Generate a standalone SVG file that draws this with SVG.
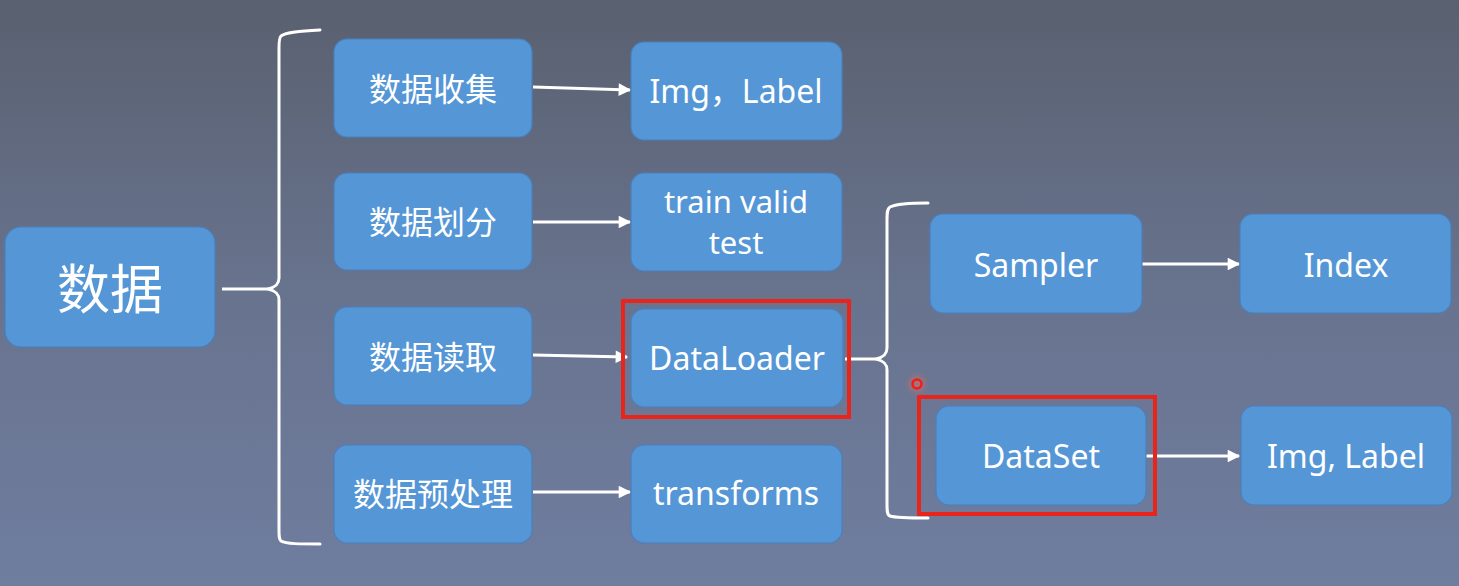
<svg xmlns="http://www.w3.org/2000/svg" width="1459" height="586" viewBox="0 0 1459 586">
  <defs>
    <linearGradient id="bg" x1="0" y1="0" x2="0" y2="1">
      <stop offset="0" stop-color="#59606f"/>
      <stop offset="0.5" stop-color="#68738e"/>
      <stop offset="1" stop-color="#6f7d9f"/>
    </linearGradient>
    <marker id="arrow" viewBox="0 0 10 10" refX="9" refY="5" markerWidth="4.6" markerHeight="4.2" orient="auto" markerUnits="strokeWidth">
      <path d="M0,0 L10,5 L0,10 z" fill="#ffffff"/>
    </marker>
    <filter id="glow" x="-1" y="-1" width="3" height="3">
      <feGaussianBlur stdDeviation="3"/>
    </filter>
  </defs>
  <style>
    .node rect { fill: #5596d6; stroke: #4a80bd; stroke-width: 1.2; }
    .node text { fill: #ffffff; text-anchor: middle; dominant-baseline: central; font-family: "Noto Sans", "Open Sans", "Noto Sans CJK SC", sans-serif; font-size: 32px; }
    .node text.big { font-size: 53px; }
    .node text.two { font-size: 31px; }
    .brace { fill: none; stroke: #ffffff; stroke-width: 3; stroke-linecap: round; stroke-linejoin: round; }
    .edge { fill: none; stroke: #ffffff; stroke-width: 3; }
    .mark { fill: none; stroke: #e8241b; stroke-width: 4; }
  </style>

  <rect x="0" y="0" width="1459" height="586" fill="url(#bg)"/>

  <!-- braces and arrows -->
  <g id="connectors">
    <path class="brace" d="M320,30 C300,31 286,32 281,36 C279,38 279,42 279,48 L279,278 C279,284 276,287 268,289 C276,291 279,294 279,300 L279,530 C279,536 279,539 281,541 C286,544 300,544 320,544"/>
    <line class="edge" x1="222" y1="289" x2="268" y2="289"/>
    <path class="brace" d="M928,203 C912,203 896,204 890,207 C887,209 887,213 887,220 L887,348 C887,354 884,357 876,359 C884,361 887,364 887,370 L887,504 C887,511 887,515 890,516 C896,518 912,518 928,518"/>
    <line class="edge" x1="845" y1="359" x2="876" y2="359"/>

    <line class="edge" x1="533" y1="87" x2="630" y2="90" marker-end="url(#arrow)"/>
    <line class="edge" x1="533" y1="222" x2="630" y2="222" marker-end="url(#arrow)"/>
    <line class="edge" x1="533" y1="355" x2="627" y2="357" marker-end="url(#arrow)"/>
    <line class="edge" x1="533" y1="492" x2="630" y2="492" marker-end="url(#arrow)"/>
    <line class="edge" x1="1142" y1="264" x2="1239" y2="264" marker-end="url(#arrow)"/>
    <line class="edge" x1="1146" y1="456" x2="1239" y2="456" marker-end="url(#arrow)"/>
  </g>

  <g id="n-data" class="node">
    <rect x="5" y="227" width="210" height="120" rx="16"/>
    <text class="big" x="110" y="288">数据</text>
  </g>

  <g id="n-collect" class="node">
    <rect x="334" y="39" width="198" height="98" rx="13"/>
    <text x="433" y="88">数据收集</text>
  </g>
  <g id="n-split" class="node">
    <rect x="334" y="173" width="198" height="97" rx="13"/>
    <text x="433" y="221">数据划分</text>
  </g>
  <g id="n-read" class="node">
    <rect x="334" y="307" width="198" height="98" rx="13"/>
    <text x="433" y="356">数据读取</text>
  </g>
  <g id="n-pre" class="node">
    <rect x="334" y="445" width="198" height="98" rx="13"/>
    <text x="433" y="493">数据预处理</text>
  </g>

  <g id="n-imglabel1" class="node">
    <rect x="631" y="42" width="211" height="98" rx="13"/>
    <text x="736" y="90">Img，Label</text>
  </g>
  <g id="n-tvt" class="node">
    <rect x="631" y="173" width="211" height="98" rx="13"/>
    <text class="two" x="736" y="201">train valid</text>
    <text class="two" x="736" y="242">test</text>
  </g>
  <g id="n-dataloader" class="node">
    <rect x="631" y="309" width="212" height="98" rx="13"/>
    <text x="737" y="357">DataLoader</text>
  </g>
  <g id="n-transforms" class="node">
    <rect x="631" y="445" width="211" height="98" rx="13"/>
    <text x="736" y="492">transforms</text>
  </g>

  <g id="n-sampler" class="node">
    <rect x="930" y="214" width="212" height="99" rx="13"/>
    <text x="1036" y="264">Sampler</text>
  </g>
  <g id="n-dataset" class="node">
    <rect x="936" y="406" width="210" height="99" rx="13"/>
    <text x="1041" y="455">DataSet</text>
  </g>
  <g id="n-index" class="node">
    <rect x="1240" y="214" width="211" height="99" rx="13"/>
    <text x="1346" y="264">Index</text>
  </g>
  <g id="n-imglabel2" class="node">
    <rect x="1241" y="406" width="211" height="99" rx="13"/>
    <text x="1346" y="455">Img, Label</text>
  </g>

  <!-- highlight frames and pointer dot -->
  <g id="highlights">
    <rect class="mark" x="623" y="301" width="226" height="116"/>
    <rect class="mark" x="919" y="397" width="236" height="117"/>
    <circle cx="917" cy="384" r="8" fill="#ff6a5a" opacity="0.45" filter="url(#glow)"/>
    <circle cx="917" cy="384" r="4.5" fill="none" stroke="#f01e14" stroke-width="2.5"/>
  </g>
</svg>
